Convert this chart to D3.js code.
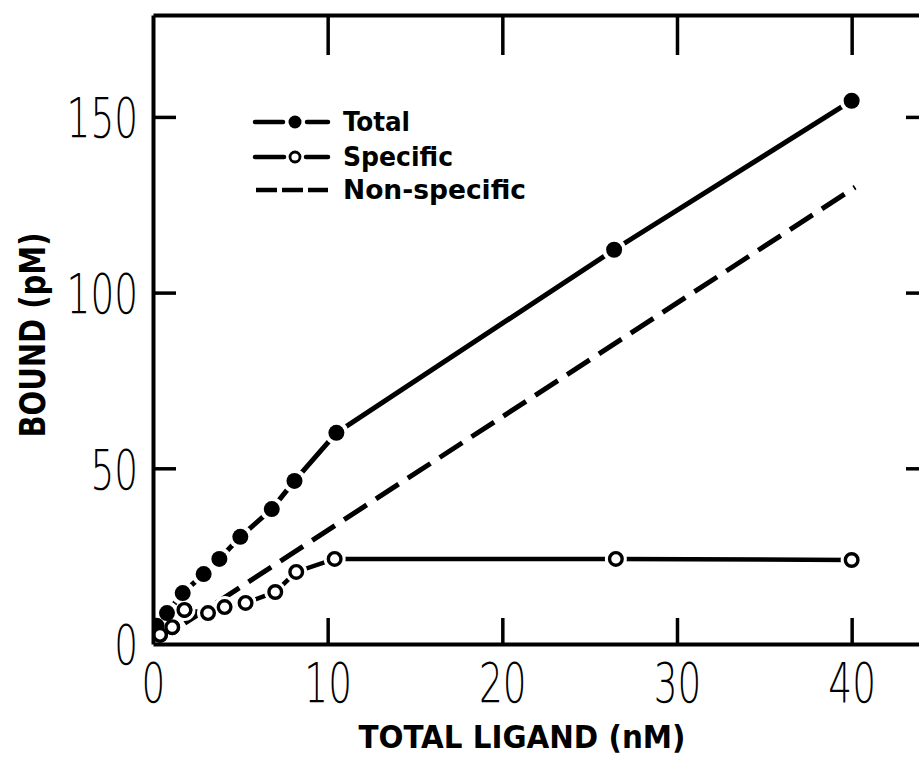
<!DOCTYPE html>
<html><head><meta charset="utf-8">
<script src="https://cdn.jsdelivr.net/npm/d3@7"></script>
<style>html,body{margin:0;padding:0;background:#fff;} svg{display:block}</style>
</head><body><div id="chart"></div>
<script>
// ---- data ----
const ligandTotal    = [0.2, 0.8, 1.7, 2.9, 3.8, 5.0, 6.8, 8.1, 10.5, 26.4, 40.0];
const boundTotal     = [5.2, 8.8, 14.5, 19.9, 24.2, 30.5, 38.4, 46.4, 60.1, 112.2, 154.6];
const ligandSpecific = [0.4, 1.1, 1.8, 3.15, 4.1, 5.3, 7.0, 8.2, 10.4, 26.5, 40.0];
const boundSpecific  = [2.6, 4.8, 9.7, 8.8, 10.5, 11.7, 14.8, 20.5, 24.2, 24.2, 23.9];
const ligandNonSpecific = [0, 40.2];
const boundNonSpecific  = [0, 130];
const xTicks = [0, 10, 20, 30, 40];
const yTicks = [0, 50, 100, 150];
const xTickLabels = ["0", "10", "20", "30", "40"];
const yTickLabels = ["0", "50", "100", "150"];
const legendLabels = ["Total", "Specific", "Non-specific"];
const xTitle = "TOTAL LIGAND (nM)";
const yTitle = "BOUND (pM)";

const W = 919, H = 758, ink = "#000";
const svg = d3.select("#chart").append("svg").attr("width", W).attr("height", H);
const x = d3.scaleLinear().domain([0, 44.6]).range([153, 932]);
const y = d3.scaleLinear().domain([0, 179]).range([644, 15]);

const numFont = "'DejaVu Sans', sans-serif";
const titleFont = "'DejaVu Sans Condensed', 'DejaVu Sans', sans-serif";

svg.append("defs").append("clipPath").attr("id", "plot")
  .append("rect").attr("x", x(0)).attr("y", y(179)).attr("width", x(44.6) - x(0)).attr("height", y(0) - y(179));

const plot = svg.append("g").attr("clip-path", "url(#plot)");
const line = d3.line().x(d => x(d[0])).y(d => y(d[1]));
const totalPts = ligandTotal.map((v, i) => [v, boundTotal[i]]);
const specPts = ligandSpecific.map((v, i) => [v, boundSpecific[i]]);
const nonPts = ligandNonSpecific.map((v, i) => [v, boundNonSpecific[i]]);

plot.append("path").datum(nonPts).attr("d", line).attr("fill", "none")
  .attr("stroke", ink).attr("stroke-width", 5).attr("stroke-dasharray", "27 11");
plot.append("path").datum(specPts).attr("d", line).attr("fill", "none")
  .attr("stroke", ink).attr("stroke-width", 4.5).attr("stroke-linecap", "round");
// open markers with white halo
plot.selectAll(".sh").data(specPts).join("circle").attr("cx", d => x(d[0])).attr("cy", d => y(d[1]))
  .attr("r", 11).attr("fill", "#fff");
plot.selectAll(".sm").data(specPts).join("circle").attr("cx", d => x(d[0])).attr("cy", d => y(d[1]))
  .attr("r", 6.3).attr("fill", "#fff").attr("stroke", ink).attr("stroke-width", 3.4);

plot.append("path").datum(totalPts).attr("d", line).attr("fill", "none")
  .attr("stroke", ink).attr("stroke-width", 5).attr("stroke-linecap", "round");
plot.selectAll(".th").data(totalPts).join("circle").attr("cx", d => x(d[0])).attr("cy", d => y(d[1]))
  .attr("r", 12).attr("fill", "#fff");
plot.selectAll(".tm").data(totalPts).join("circle").attr("cx", d => x(d[0])).attr("cy", d => y(d[1]))
  .attr("r", 8).attr("fill", ink);
// redraw specific markers that sit under total halos in the crowded corner
plot.selectAll(".sm2").data(specPts.slice(0, 3)).join("circle").attr("cx", d => x(d[0])).attr("cy", d => y(d[1]))
  .attr("r", 6.3).attr("fill", "#fff").attr("stroke", ink).attr("stroke-width", 3.4);

// ---- axes ----
function styleAxis(g) {
  g.select(".domain").attr("stroke", ink).attr("stroke-width", 4);
  g.selectAll(".tick line").attr("stroke", ink).attr("stroke-width", 3.5);
}
const gB = svg.append("g").attr("transform", `translate(0,${y(0)})`)
  .call(d3.axisBottom(x).tickValues(xTicks).tickSize(-26).tickSizeOuter(0).tickPadding(19)
    .tickFormat((d, i) => xTickLabels[i]));
const gL = svg.append("g").attr("transform", `translate(${x(0)},0)`)
  .call(d3.axisLeft(y).tickValues(yTicks).tickSize(-23).tickSizeOuter(0).tickPadding(15)
    .tickFormat((d, i) => yTickLabels[i]));
const gT = svg.append("g").attr("transform", `translate(0,${y(179)})`)
  .call(d3.axisTop(x).tickValues(xTicks.slice(1)).tickSize(-40).tickSizeOuter(0).tickFormat(""));
const gR = svg.append("g").attr("transform", `translate(${x(44.6)},0)`)
  .call(d3.axisRight(y).tickValues(yTicks.slice(1)).tickSize(-26).tickSizeOuter(0).tickFormat(""));
[gB, gL, gT, gR].forEach(styleAxis);
[gB, gL].forEach(g => {
  g.selectAll(".tick text").attr("fill", ink).style("font-family", numFont)
    .style("font-weight", 200).style("font-size", "55px")
    .each(function () {
      const w = this.getComputedTextLength();
      d3.select(this).attr("textLength", w * 0.68).attr("lengthAdjust", "spacingAndGlyphs");
    });
});
gL.selectAll(".tick text").attr("dy", "0.36em");
// hide ticks at 0 (corner)
gB.selectAll(".tick line").filter(d => d === 0).remove();
gL.selectAll(".tick line").filter(d => d === 0).remove();

// ---- titles ----
svg.append("text").attr("x", 522).attr("y", 748).attr("text-anchor", "middle")
  .attr("fill", ink).style("font-family", titleFont).style("font-weight", "bold").style("font-size", "32px")
  .attr("textLength", 327).attr("lengthAdjust", "spacingAndGlyphs").text(xTitle);
svg.append("text").attr("transform", "translate(45,335) rotate(-90)").attr("text-anchor", "middle")
  .attr("fill", ink).style("font-family", titleFont).style("font-weight", "bold").style("font-size", "35px")
  .attr("textLength", 205).attr("lengthAdjust", "spacingAndGlyphs").text(yTitle);

// ---- legend ----
const legRows = [122, 157, 190];
const legBase = [131, 166, 199];
const legWidths = [67, 110, 183];
const lg = svg.append("g");
// Total
lg.append("line").attr("x1", 255).attr("x2", 283).attr("y1", legRows[0]).attr("y2", legRows[0]).attr("stroke", ink).attr("stroke-width", 4.5).attr("stroke-linecap", "round");
lg.append("line").attr("x1", 307).attr("x2", 328).attr("y1", legRows[0]).attr("y2", legRows[0]).attr("stroke", ink).attr("stroke-width", 4.5).attr("stroke-linecap", "round");
lg.append("circle").attr("cx", 295).attr("cy", legRows[0]).attr("r", 6.5).attr("fill", ink);
// Specific
lg.append("line").attr("x1", 255).attr("x2", 284).attr("y1", legRows[1]).attr("y2", legRows[1]).attr("stroke", ink).attr("stroke-width", 4.5).attr("stroke-linecap", "round");
lg.append("line").attr("x1", 306).attr("x2", 328).attr("y1", legRows[1]).attr("y2", legRows[1]).attr("stroke", ink).attr("stroke-width", 4.5).attr("stroke-linecap", "round");
lg.append("circle").attr("cx", 295).attr("cy", legRows[1]).attr("r", 5).attr("fill", "#fff").attr("stroke", ink).attr("stroke-width", 2.8);
// Non-specific
lg.append("line").attr("x1", 256).attr("x2", 328).attr("y1", legRows[2]).attr("y2", legRows[2]).attr("stroke", ink).attr("stroke-width", 4.5).attr("stroke-dasharray", "21 5");
lg.selectAll(".lt").data(legendLabels).join("text")
  .attr("x", 343).attr("y", (d, i) => legBase[i]).attr("fill", ink)
  .style("font-family", titleFont).style("font-weight", "bold").style("font-size", "27px")
  .attr("textLength", (d, i) => legWidths[i]).attr("lengthAdjust", "spacingAndGlyphs").text(d => d);
</script></body></html>
